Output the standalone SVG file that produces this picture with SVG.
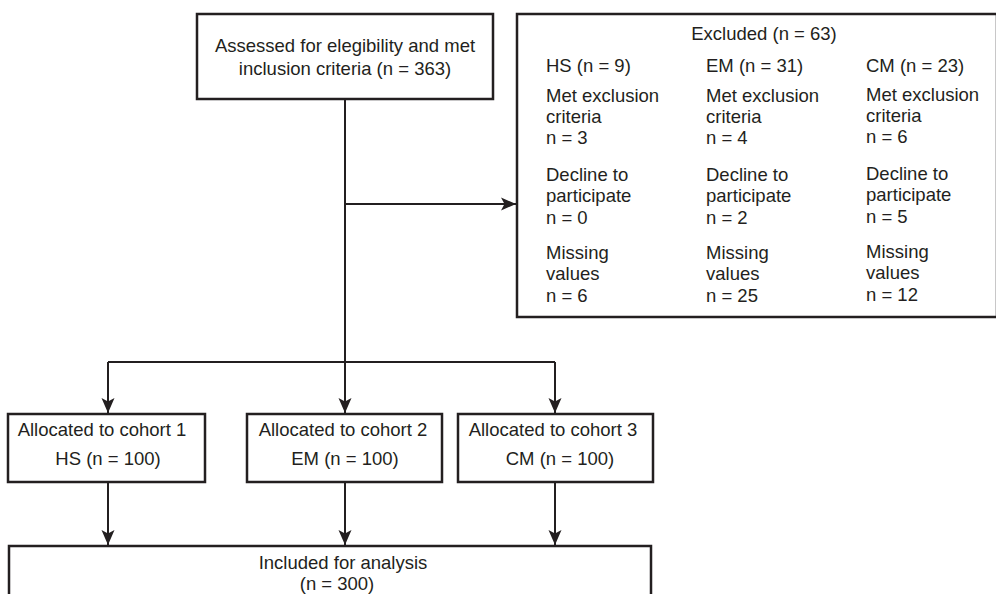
<svg xmlns="http://www.w3.org/2000/svg" width="996" height="594" viewBox="0 0 996 594">
<defs>
<style>
.box{fill:#fff;stroke:#231f20;stroke-width:2.5}
.t{font-family:"Liberation Sans",Arial,sans-serif;font-size:18.5px;fill:#231f20}
.m{text-anchor:middle}
.ln{fill:none;stroke:#231f20;stroke-width:2}
</style>
<marker id="ah" markerUnits="userSpaceOnUse" markerWidth="16" markerHeight="14" refX="15" refY="7" orient="auto">
<path d="M0,0.5 L15,7 L0,13.5 L3.5,7 Z" fill="#231f20"/>
</marker>
</defs>
<rect width="996" height="594" fill="#fff"/>
<g id="connectors">
<line class="ln" x1="345" y1="100" x2="345" y2="362"/>
<line class="ln" x1="345" y1="204" x2="516" y2="204" marker-end="url(#ah)"/>
<line class="ln" x1="108" y1="362" x2="555" y2="362"/>
<line class="ln" x1="108" y1="362" x2="108" y2="413" marker-end="url(#ah)"/>
<line class="ln" x1="345" y1="362" x2="345" y2="413" marker-end="url(#ah)"/>
<line class="ln" x1="555" y1="362" x2="555" y2="413" marker-end="url(#ah)"/>
<line class="ln" x1="108" y1="482" x2="108" y2="545" marker-end="url(#ah)"/>
<line class="ln" x1="345" y1="482" x2="345" y2="545" marker-end="url(#ah)"/>
<line class="ln" x1="555" y1="482" x2="555" y2="545" marker-end="url(#ah)"/>
</g>
<g id="assessed">
<rect class="box" x="197" y="14" width="296" height="85"/>
<text class="t m" x="345" y="52">Assessed for elegibility and met</text>
<text class="t m" x="345" y="75">inclusion criteria (n = 363)</text>
</g>
<g id="excluded">
<rect class="box" x="517" y="14" width="480" height="303"/>
<text class="t m" x="764" y="40">Excluded (n = 63)</text>
<text class="t" x="546" y="72">HS (n = 9)</text>
<text class="t" x="546" y="102">Met exclusion</text>
<text class="t" x="546" y="123">criteria</text>
<text class="t" x="546" y="144">n = 3</text>
<text class="t" x="546" y="181">Decline to</text>
<text class="t" x="546" y="202">participate</text>
<text class="t" x="546" y="224">n = 0</text>
<text class="t" x="546" y="259">Missing</text>
<text class="t" x="546" y="280">values</text>
<text class="t" x="546" y="302">n = 6</text>
<text class="t" x="706" y="72">EM (n = 31)</text>
<text class="t" x="706" y="102">Met exclusion</text>
<text class="t" x="706" y="123">criteria</text>
<text class="t" x="706" y="144">n = 4</text>
<text class="t" x="706" y="181">Decline to</text>
<text class="t" x="706" y="202">participate</text>
<text class="t" x="706" y="224">n = 2</text>
<text class="t" x="706" y="259">Missing</text>
<text class="t" x="706" y="280">values</text>
<text class="t" x="706" y="302">n = 25</text>
<text class="t" x="866" y="72">CM (n = 23)</text>
<text class="t" x="866" y="100.5">Met exclusion</text>
<text class="t" x="866" y="121.5">criteria</text>
<text class="t" x="866" y="142.5">n = 6</text>
<text class="t" x="866" y="179.5">Decline to</text>
<text class="t" x="866" y="200.5">participate</text>
<text class="t" x="866" y="222.5">n = 5</text>
<text class="t" x="866" y="257.5">Missing</text>
<text class="t" x="866" y="278.5">values</text>
<text class="t" x="866" y="300.5">n = 12</text>
</g>
<g id="cohort1">
<rect class="box" x="8" y="414" width="197" height="68"/>
<text class="t m" x="102" y="436">Allocated to cohort 1</text>
<text class="t m" x="108" y="465">HS (n = 100)</text>
</g>
<g id="cohort2">
<rect class="box" x="247" y="414" width="195" height="68"/>
<text class="t m" x="343" y="436">Allocated to cohort 2</text>
<text class="t m" x="345" y="465">EM (n = 100)</text>
</g>
<g id="cohort3">
<rect class="box" x="458" y="414" width="195" height="68"/>
<text class="t m" x="553" y="436">Allocated to cohort 3</text>
<text class="t m" x="560" y="465">CM (n = 100)</text>
</g>
<g id="included">
<rect class="box" x="9" y="546" width="642" height="70"/>
<text class="t m" x="343" y="569">Included for analysis</text>
<text class="t m" x="337" y="590">(n = 300)</text>
</g>
</svg>
